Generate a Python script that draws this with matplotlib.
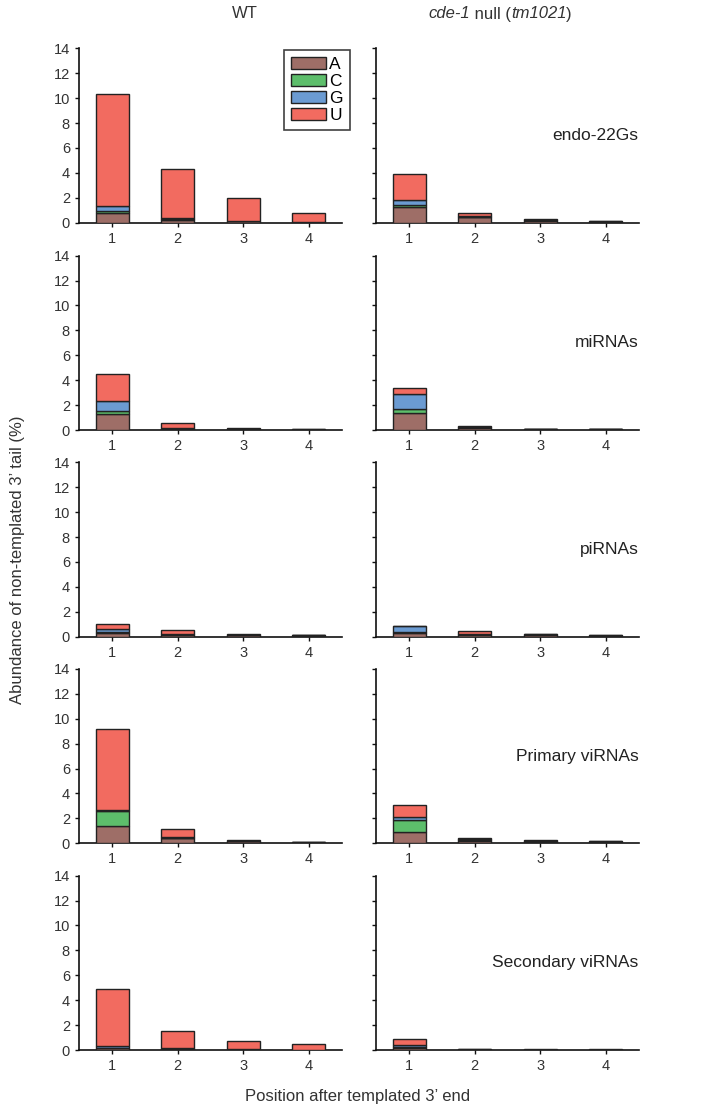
import matplotlib
matplotlib.use("Agg")
import matplotlib.pyplot as plt
from matplotlib.offsetbox import TextArea, HPacker, AnchoredOffsetbox
import numpy as np

plt.rcParams['font.family'] = ['Liberation Sans', 'DejaVu Sans']

positions = [1, 2, 3, 4]
nucleotides = ["A", "C", "G", "U"]
colors = ["#9E6E67", "#5DBE6B", "#6B9BD2", "#F26B60"]
classes = ["endo-22Gs", "miRNAs", "piRNAs", "Primary viRNAs", "Secondary viRNAs"]

# values (%) per position 1..4, stacked A, C, G, U
endo_wt_A = [0.80, 0.25, 0.10, 0.03]
endo_wt_C = [0.10, 0.05, 0.03, 0.01]
endo_wt_G = [0.45, 0.05, 0.03, 0.01]
endo_wt_U = [8.95, 3.95, 1.80, 0.73]
endo_cde_A = [1.30, 0.43, 0.15, 0.06]
endo_cde_C = [0.10, 0.05, 0.05, 0.02]
endo_cde_G = [0.45, 0.02, 0.03, 0.02]
endo_cde_U = [2.05, 0.30, 0.07, 0.02]

mir_wt_A = [1.25, 0.10, 0.05, 0.03]
mir_wt_C = [0.30, 0.05, 0.03, 0.01]
mir_wt_G = [0.80, 0.05, 0.03, 0.01]
mir_wt_U = [2.15, 0.33, 0.04, 0.02]
mir_cde_A = [1.35, 0.20, 0.06, 0.05]
mir_cde_C = [0.33, 0.03, 0.02, 0.02]
mir_cde_G = [1.25, 0.03, 0.02, 0.02]
mir_cde_U = [0.48, 0.03, 0.02, 0.01]

pi_wt_A = [0.33, 0.12, 0.10, 0.07]
pi_wt_C = [0.06, 0.03, 0.03, 0.03]
pi_wt_G = [0.22, 0.03, 0.03, 0.03]
pi_wt_U = [0.38, 0.33, 0.08, 0.03]
pi_cde_A = [0.30, 0.15, 0.10, 0.06]
pi_cde_C = [0.07, 0.03, 0.04, 0.03]
pi_cde_G = [0.45, 0.03, 0.04, 0.02]
pi_cde_U = [0.06, 0.22, 0.03, 0.02]

pv_wt_A = [1.40, 0.42, 0.15, 0.05]
pv_wt_C = [1.20, 0.03, 0.03, 0.02]
pv_wt_G = [0.06, 0.03, 0.03, 0.02]
pv_wt_U = [6.50, 0.65, 0.05, 0.01]
pv_cde_A = [0.88, 0.20, 0.12, 0.10]
pv_cde_C = [0.96, 0.05, 0.05, 0.04]
pv_cde_G = [0.24, 0.10, 0.05, 0.03]
pv_cde_U = [0.98, 0.07, 0.04, 0.03]

sv_wt_A = [0.15, 0.08, 0.03, 0.01]
sv_wt_C = [0.05, 0.04, 0.01, 0.01]
sv_wt_G = [0.15, 0.02, 0.01, 0.01]
sv_wt_U = [4.55, 1.42, 0.70, 0.43]
sv_cde_A = [0.20, 0.03, 0.02, 0.02]
sv_cde_C = [0.06, 0.01, 0.01, 0.01]
sv_cde_G = [0.12, 0.01, 0.01, 0.01]
sv_cde_U = [0.48, 0.02, 0.01, 0.01]

wt_data = [
    [endo_wt_A, endo_wt_C, endo_wt_G, endo_wt_U],
    [mir_wt_A, mir_wt_C, mir_wt_G, mir_wt_U],
    [pi_wt_A, pi_wt_C, pi_wt_G, pi_wt_U],
    [pv_wt_A, pv_wt_C, pv_wt_G, pv_wt_U],
    [sv_wt_A, sv_wt_C, sv_wt_G, sv_wt_U],
]
cde_data = [
    [endo_cde_A, endo_cde_C, endo_cde_G, endo_cde_U],
    [mir_cde_A, mir_cde_C, mir_cde_G, mir_cde_U],
    [pi_cde_A, pi_cde_C, pi_cde_G, pi_cde_U],
    [pv_cde_A, pv_cde_C, pv_cde_G, pv_cde_U],
    [sv_cde_A, sv_cde_C, sv_cde_G, sv_cde_U],
]

W, H = 707, 1118
fig = plt.figure(figsize=(W / 100, H / 100), dpi=100)

left_x = [79 / W, 376 / W]
ax_w = 263 / W
zero_px = [222.7, 430.0, 636.7, 843.3, 1050.0]
ax_h = 174.4 / H

def draw(ax, series):
    bottom = np.zeros(len(positions))
    handles = []
    for vals, col, nt in zip(series, colors, nucleotides):
        vals = np.array(vals)
        b = ax.bar(positions, vals, width=0.5, bottom=bottom, color=col,
                   edgecolor="#222222", linewidth=1.0, label=nt, zorder=3)
        handles.append(b)
        bottom = bottom + vals
    ax.set_xlim(0.49, 4.51)
    ax.set_ylim(0, 14)
    ax.set_yticks(range(0, 15, 2))
    ax.set_xticks(positions)
    ax.spines["top"].set_visible(False)
    ax.spines["right"].set_visible(False)
    for s in ["left", "bottom"]:
        ax.spines[s].set_linewidth(1.2)
        ax.spines[s].set_color("#111111")
    ax.tick_params(direction="out", length=3, width=1, labelsize=10.5,
                   colors="#111111", labelcolor="#333333")
    return handles

for r in range(5):
    y0 = 1 - zero_px[r] / H
    axL = fig.add_axes([left_x[0], y0, ax_w, ax_h])
    axR = fig.add_axes([left_x[1], y0, ax_w, ax_h])
    h = draw(axL, wt_data[r])
    draw(axR, cde_data[r])
    axR.set_yticklabels([])
    axR.text(4.5, 7.0, classes[r], ha="right", va="center", fontsize=12.5,
             color="#222222")
    if r == 0:
        leg = axL.legend(handles=h, labels=nucleotides, loc="upper right",
                         bbox_to_anchor=(1.03, 0.99), frameon=True, fancybox=False,
                         edgecolor="#111111", fontsize=12.5, handlelength=2.0,
                         handleheight=0.65, handletextpad=0.2, labelspacing=0.12,
                         borderpad=0.4, borderaxespad=0)
        leg.get_frame().set_linewidth(1.2)

fig.text(245 / W, 1 - 14 / H, "WT", ha="center", va="center", fontsize=12,
         color="#333333")

# mixed italic / roman title for the mutant column
tprops_i = dict(fontsize=12, color="#333333", style="italic")
tprops_r = dict(fontsize=12, color="#333333")
parts = [TextArea("cde-1", textprops=tprops_i),
         TextArea(" null (", textprops=tprops_r),
         TextArea("tm1021", textprops=tprops_i),
         TextArea(")", textprops=tprops_r)]
pack = HPacker(children=parts, align="baseline", pad=0, sep=0)
abox = AnchoredOffsetbox(loc="center", child=pack, frameon=False,
                         bbox_to_anchor=(500 / W, 1 - 14 / H),
                         bbox_transform=fig.transFigure, borderpad=0, pad=0)
fig.add_artist(abox)

fig.text(18 / W, 1 - 560 / H, "Abundance of non-templated 3\u2019 tail (%)",
         rotation=90, ha="center", va="center", fontsize=12, color="#333333")
fig.text(358 / W, 1 - 1097 / H, "Position after templated 3\u2019 end",
         ha="center", va="center", fontsize=12, color="#333333")

fig.savefig("out.png", dpi=100)
